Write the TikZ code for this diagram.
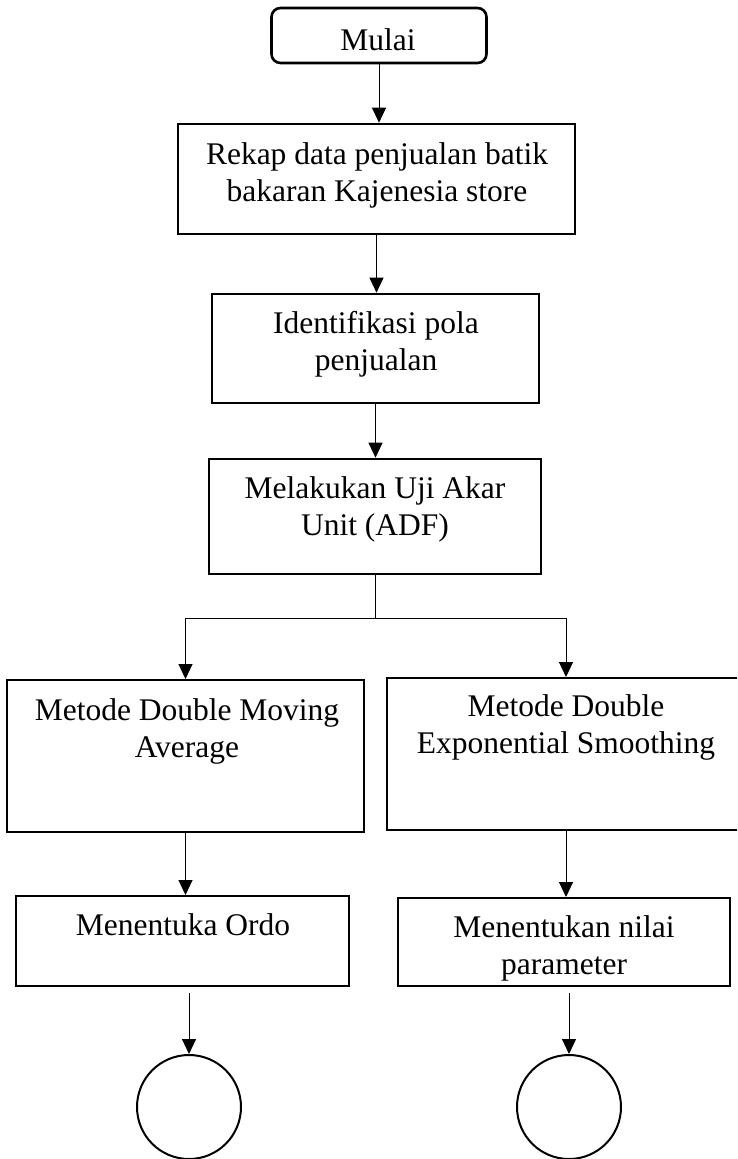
\documentclass[tikz,border=0pt]{standalone}
\usepackage{fontspec}
\setmainfont{Liberation Serif}
\usetikzlibrary{arrows.meta}
\begin{document}
\begin{tikzpicture}[x=1pt,y=-1pt,
  box/.style={draw, line width=2pt, rectangle, inner sep=0pt},
  thickbox/.style={box, line width=2.6pt},
  txt/.style={font=\fontsize{31.5}{37}\selectfont, align=center, anchor=north, inner sep=0pt},
  arr/.style={line width=1pt, -{Triangle[length=15pt,width=14pt]}},
  ln/.style={line width=1pt},
  endc/.style={draw, circle, line width=2pt, minimum size=104pt, inner sep=0pt}]
\useasboundingbox (0,0) rectangle (737,1159);
\fill[white] (0,0) rectangle (737,1159);
\clip (0,0) rectangle (737,1159);
% boxes
\node[thickbox, rounded corners=9pt, minimum width=215pt, minimum height=55pt] (mulai) at (379,35.5) {};
\node[thickbox, minimum width=397pt, minimum height=110pt] (rekap) at (376.5,179) {};
\node[thickbox, minimum width=327pt, minimum height=109pt] (ident) at (375.5,348.5) {};
\node[thickbox, minimum width=332pt, minimum height=115pt] (melak) at (375,516.5) {};
\node[box, minimum width=357pt, minimum height=152pt] (dma) at (185.5,756) {};
\node[box, minimum width=358pt, minimum height=152pt] (des) at (566,754) {};
\node[box, minimum width=333pt, minimum height=90pt] (ordo) at (182.5,941) {};
\node[box, minimum width=332pt, minimum height=88pt] (param) at (564,942) {};
\node[endc] (c1) at (189,1107) {};
\node[endc] (c2) at (569,1107) {};
% texts
\node[txt, anchor=base] (tmulai) at (378,50) {Mulai};
\node[txt] (trekap) at (377,142) {Rekap data penjualan batik\\bakaran Kajenesia store};
\node[txt] (tident) at (376,311) {Identifikasi pola\\penjualan};
\node[txt] (tmelak) at (375,476) {Melakukan Uji Akar\\Unit (ADF)};
\node[txt] (tdma) at (187,698) {Metode Double Moving\\Average};
\node[txt] (tdes) at (566,694) {Metode Double\\Exponential Smoothing};
\node[txt] (tordo) at (183,913) {Menentuka Ordo};
\node[txt] (tparam) at (564,915) {Menentukan nilai\\parameter};
% connectors
\coordinate (sy) at (0,618);
\draw[arr] (mulai.south) -- (mulai.south |- rekap.north);
\draw[arr] (rekap.south) -- (rekap.south |- ident.north);
\draw[arr] (ident.south) -- (ident.south |- melak.north);
\draw[ln] (melak.south) -- (melak.south |- sy);
\draw[ln] (dma.north |- sy) -- (des.north |- sy);
\draw[arr] (dma.north |- sy) -- (dma.north);
\draw[arr] (des.north |- sy) -- (des.north);
\draw[arr] (dma.south) -- (dma.south |- ordo.north);
\draw[arr] (des.south) -- (des.south |- param.north);
\draw[arr] ([yshift=-6pt]c1.north |- ordo.south) -- (c1.north);
\draw[arr] ([yshift=-6pt]c2.north |- param.south) -- (c2.north);
\end{tikzpicture}
\end{document}
